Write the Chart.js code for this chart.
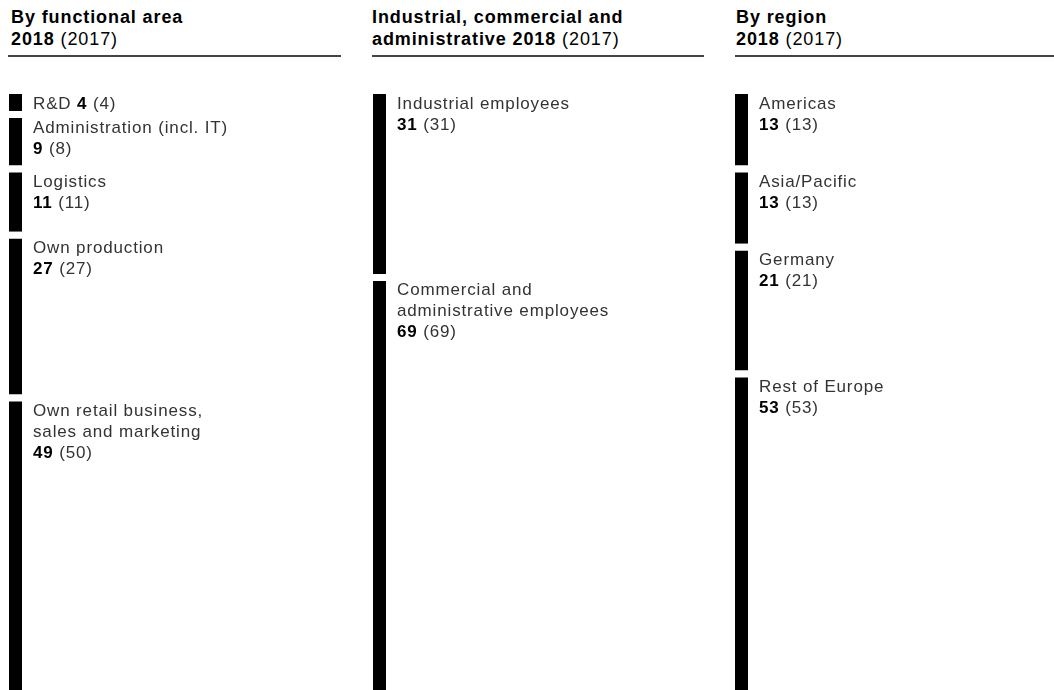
<!DOCTYPE html>
<html>
<head>
<meta charset="utf-8">
<script src="https://cdn.jsdelivr.net/npm/chart.js@4/dist/chart.umd.min.js"></script>
<style>
  html, body { margin: 0; padding: 0; background: #fff; width: 1054px; height: 690px; overflow: hidden; }
  body { position: relative; font-family: "Liberation Sans", Arial, sans-serif; }
  .head { position: absolute; top: 5.5px; font-size: 18px; line-height: 22px; color: #000; white-space: nowrap; letter-spacing: 0.9px; }
  .head b { font-weight: bold; }
  .rule { position: absolute; top: 55px; height: 1.5px; background: #444; }
  canvas { position: absolute; top: 0; }
</style>
</head>
<body>
<div class="head" style="left:11px"><b>By functional area</b><br><b>2018</b> (2017)</div>
<div class="rule" style="left:8px;width:333px"></div>
<div class="head" style="left:372px"><b>Industrial, commercial and</b><br><b>administrative 2018</b> (2017)</div>
<div class="rule" style="left:372px;width:332px"></div>
<div class="head" style="left:736px"><b>By region</b><br><b>2018</b> (2017)</div>
<div class="rule" style="left:735px;width:319px"></div>

<canvas id="functional" width="340" height="690" style="left:9px"></canvas>
<canvas id="employees" width="340" height="690" style="left:373px"></canvas>
<canvas id="regions" width="319" height="690" style="left:735px"></canvas>

<script>
// Employees in percent, 2018 with prior year 2017
const functionalAreas = ['R&D', 'Administration (incl. IT)', 'Logistics', 'Own production', 'Own retail business,\nsales and marketing'];
const functional2018 = [4, 9, 11, 27, 49];
const functional2017 = [4, 8, 11, 27, 50];

const employeeTypes = ['Industrial employees', 'Commercial and\nadministrative employees'];
const employeeTypes2018 = [31, 69];
const employeeTypes2017 = [31, 69];

const regions = ['Americas', 'Asia/Pacific', 'Germany', 'Rest of Europe'];
const regions2018 = [13, 13, 21, 53];
const regions2017 = [13, 13, 21, 53];

const BAR_WIDTH = 13;
const GAP = 7;           // white space between stacked segments
const TOP = 87;          // top of the value axis
const TEXT_OFFSET = 11;  // space between bar and its labels
const LINE_HEIGHT = 21;
const NAME_FONT = '17px "Liberation Sans", Arial, sans-serif';
const VALUE_FONT = 'bold 17px "Liberation Sans", Arial, sans-serif';
const LETTER_SPACING = '0.85px';

const segmentLabels = {
  id: 'segmentLabels',
  afterDatasetsDraw(chart) {
    const ctx = chart.ctx;
    const x = chart.chartArea.right + TEXT_OFFSET;
    ctx.save();
    ctx.textBaseline = 'alphabetic';
    ctx.textAlign = 'left';
    if ('letterSpacing' in ctx) ctx.letterSpacing = LETTER_SPACING;
    chart.data.datasets.forEach((ds, i) => {
      const bar = chart.getDatasetMeta(i).data[0];
      const top = Math.min(bar.y, bar.base) + GAP;
      const height = Math.abs(bar.base - bar.y) - GAP;
      const lines = ds.label.split('\n');
      const inline = height < 30;
      let y = top + 14.5;
      const drawValue = (startX, yy) => {
        let cx = startX;
        ctx.font = VALUE_FONT;
        ctx.fillStyle = '#000';
        const v = String(ds.data[0]);
        ctx.fillText(v, cx, yy);
        cx += ctx.measureText(v).width;
        ctx.font = NAME_FONT;
        ctx.fillStyle = '#333';
        ctx.fillText(' (' + ds.prior + ')', cx, yy);
      };
      lines.forEach((line, k) => {
        ctx.font = NAME_FONT;
        ctx.fillStyle = '#333';
        ctx.fillText(line, x, y);
        if (inline && k === lines.length - 1) {
          drawValue(x + ctx.measureText(line + ' ').width, y);
        }
        y += LINE_HEIGHT;
      });
      if (!inline) drawValue(x, y);
    });
    ctx.restore();
  }
};

function stackedColumn(id, names, values, prior) {
  const canvas = document.getElementById(id);
  new Chart(canvas, {
    type: 'bar',
    data: {
      labels: [''],
      datasets: names.map((name, i) => ({
        label: name,
        data: [values[i]],
        prior: prior[i],
        backgroundColor: '#000',
        borderColor: '#fff',
        borderWidth: { top: GAP, right: 0, bottom: 0, left: 0 },
        borderSkipped: false,
        inflateAmount: 0,
        barThickness: BAR_WIDTH
      }))
    },
    options: {
      responsive: false,
      animation: false,
      events: [],
      layout: { padding: { left: 0, right: canvas.width - BAR_WIDTH, top: TOP, bottom: 0 } },
      plugins: { legend: { display: false }, tooltip: { enabled: false } },
      scales: {
        x: { stacked: true, display: false, offset: true },
        y: { stacked: true, display: false, reverse: true, min: 0, max: 100 }
      }
    },
    plugins: [segmentLabels]
  });
}

stackedColumn('functional', functionalAreas, functional2018, functional2017);
stackedColumn('employees', employeeTypes, employeeTypes2018, employeeTypes2017);
stackedColumn('regions', regions, regions2018, regions2017);
</script>
</body>
</html>
